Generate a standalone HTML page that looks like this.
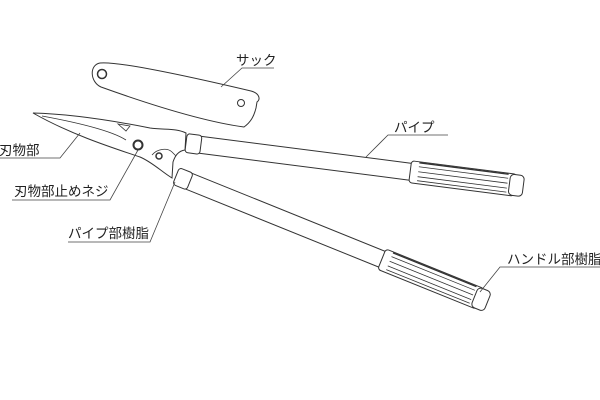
<!DOCTYPE html>
<html><head><meta charset="utf-8"><style>
html,body{margin:0;padding:0;background:#fff;}
svg{display:block}
text{font-family:"Liberation Sans","Noto Sans CJK JP",sans-serif;font-size:13.5px;fill:#222}
</style></head><body>
<svg width="600" height="400" viewBox="0 0 600 400" xmlns="http://www.w3.org/2000/svg">
<g fill="#fff" stroke="#333" stroke-width="1">
<!-- sack -->
<path d="M100,63 C120,61 200,79 251,91 C259,93 261,99 257,102 L256,108 C254,116 251,122 244,127 C200,121 140,101 101,87 C90,82 89,65 100,63 Z"/>
<circle cx="102" cy="74" r="4.5" stroke-width="1.5"/>
<circle cx="241" cy="103" r="3.5"/>
<!-- lower arm -->
<g transform="translate(176,176) rotate(22)">
<rect x="14" y="-8.5" width="210" height="17"/>
<rect x="0" y="-9" width="15" height="18" rx="3"/>
<rect x="222" y="-11" width="106" height="22" rx="3"/>
<path d="M230,-6 H320 M230,-1 H320 M230,4 H320 M230,8 H320" stroke-width="0.8"/>
<path d="M230,-10 H320" stroke-width="1.3"/>
<rect x="322" y="-10.5" width="14" height="21" rx="4"/>
</g>
<!-- upper arm -->
<g transform="translate(186,143) rotate(7.3)">
<rect x="14" y="-8.5" width="214" height="17"/>
<rect x="0" y="-9.5" width="15" height="19" rx="3"/>
<rect x="226" y="-11" width="106" height="22" rx="3"/>
<path d="M234,-6 H324 M234,-1 H324 M234,4 H324 M234,8 H324" stroke-width="0.8"/>
<path d="M234,-10 H324" stroke-width="1.3"/>
<rect x="326" y="-10.5" width="14" height="21" rx="4"/>
</g>
<!-- blade -->
<path d="M33,113 C70,114 110,120 150,128 C165,130 176,128 186,133 L185,150 C178,151 175,156 173,162 L172,178 C162,172 152,162 140,157 C110,147 70,134 33,113 Z"/>
<path d="M42,116 C80,123 112,131 126,140" stroke-width="0.8"/>
<path d="M118,124 L126,131 L130,126 Z" stroke-width="0.8"/>
<path d="M152,155 C158,148 168,148 172,152 L176,156" stroke-width="0.8"/>
<circle cx="138" cy="145" r="4.5" stroke-width="2"/>
<circle cx="159" cy="156" r="3" stroke-width="1.5"/>
</g>
<!-- leaders -->
<g fill="none" stroke="#444" stroke-width="0.8">
<path d="M221,87 L242,68 H274"/>
<path d="M366,157 L388,135 H448"/>
<path d="M0,158 H60 L80,133"/>
<path d="M12,200 H110 L138,150"/>
<path d="M68,242 H150 L175,182"/>
<path d="M480,292 L500,267 H600"/>
</g>
<text x="236" y="65">サック</text>
<text x="394" y="132">パイプ</text>
<text x="-1" y="155">刃物部</text>
<text x="14" y="196">刃物部止めネジ</text>
<text x="68" y="238">パイプ部樹脂</text>
<text x="507" y="264">ハンドル部樹脂</text>
</svg>
</body></html>
